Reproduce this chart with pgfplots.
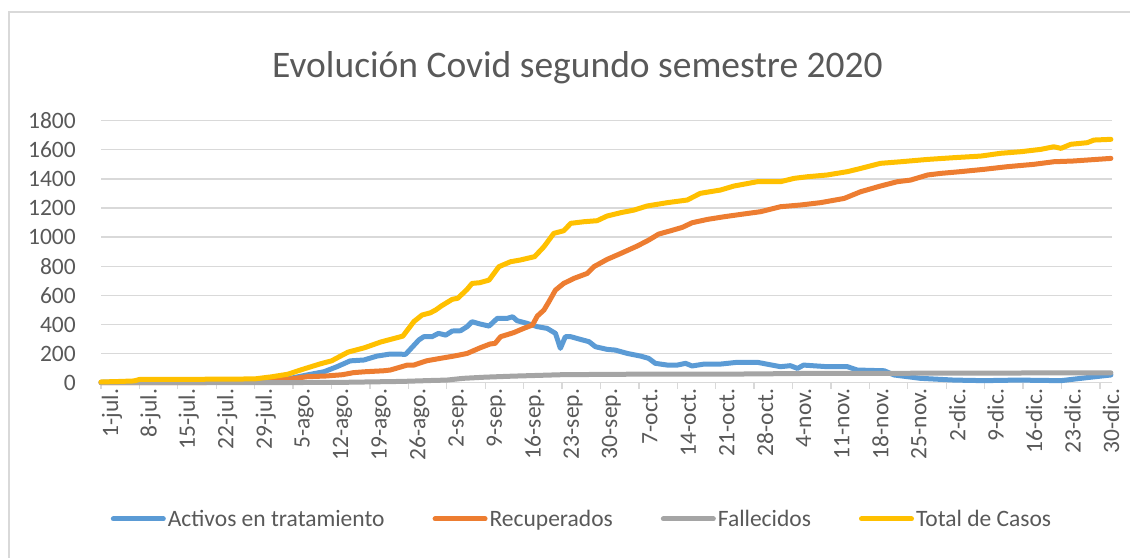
\documentclass[border=0pt]{standalone}
\usepackage{pgfplots}
\pgfplotsset{compat=1.18}
\usepackage{fontspec}
\setmainfont{Carlito}
\definecolor{cblue}{HTML}{5B9BD5}
\definecolor{corange}{HTML}{ED7D31}
\definecolor{cgray}{HTML}{A5A5A5}
\definecolor{cyellow}{HTML}{FFC000}
\definecolor{txt}{HTML}{595959}
\definecolor{gridc}{HTML}{D9D9D9}
\begin{document}
\begin{tikzpicture}[x=1pt,y=1pt]
\useasboundingbox (0,0) rectangle (1130,557);
\draw[gridc, line width=1.3pt] (9,-5) -- (9,545) -- (1140,545);
\node[anchor=base, text=txt, font=\fontsize{37.5}{45}\selectfont, inner sep=0pt] at (577.5,479) {Evolución Covid segundo semestre 2020};
\begin{axis}[
  at={(101pt,174.3pt)}, anchor=south west,
  scale only axis, width=1011pt, height=262pt,
  xmin=0, xmax=184.2, ymin=0, ymax=1800,
  axis x line*=bottom, axis y line*=left,
  y axis line style={draw=none},
  x axis line style={gridc, line width=1.3pt, -},
  xtick={0,7,...,182},
  xticklabels={1-jul.,8-jul.,15-jul.,22-jul.,29-jul.,5-ago.,12-ago.,19-ago.,26-ago.,2-sep.,9-sep.,16-sep.,23-sep.,30-sep.,7-oct.,14-oct.,21-oct.,28-oct.,4-nov.,11-nov.,18-nov.,25-nov.,2-dic.,9-dic.,16-dic.,23-dic.,30-dic.},
  ytick={0,200,...,1800},
  ymajorgrids, major grid style={gridc, line width=1.3pt},
  tick align=outside, major tick length=6pt,
  xtick style={gridc, line width=1.3pt},
  ytick style={draw=none},
  tick label style={text=txt, font=\fontsize{23.5}{28}\selectfont},
  xticklabel style={rotate=90, anchor=east, inner sep=0pt, yshift=-11pt},
  yticklabel style={anchor=east, inner sep=0pt, xshift=-19pt},
  /pgf/number format/assume math mode=true,
  /pgf/number format/1000 sep={},
  clip=false,
  every axis plot/.append style={line width=5pt, line join=round, line cap=round, mark=none},
  legend columns=4,
  legend style={at={(0.4758,-0.520)}, anchor=center, draw=none, fill=none, text=txt,
    font=\fontsize{23.5}{28}\selectfont,
    /tikz/every even column/.append style={column sep=46pt},
    nodes={inner xsep=2pt, inner ysep=0pt}},
  legend image code/.code={\draw[#1, line width=5pt, line cap=round] (2.5pt,0pt) -- (52.5pt,0pt);},
]
% Activos en tratamiento
\addplot[cblue] coordinates {
(0,3) (7,5) (28,8) (32,15) (34.5,30) (37.5,53) (40.6,75) (43,110) (45.4,150) (47.9,156)
(50.3,183) (52.7,197) (55.5,195) (57.9,293) (58.8,316) (60.3,316) (61.5,339) (62.8,327)
(64,355) (65.5,357) (66.7,385) (67.6,419) (69.1,403) (70.7,389) (72.2,442) (74,442) (75,453)
(75.8,426) (77.6,408) (79.5,385) (81.3,373) (82.8,339) (83.7,236) (84.6,316) (85.6,316)
(87.4,297) (88.9,282) (90.1,247) (92.2,229) (93.7,224) (95.9,201) (98.3,183) (99.8,167)
(101,133) (103.2,121) (105,121) (106.5,133) (107.7,115) (109.9,128) (112.9,128) (115.9,140)
(119.6,140) (121.4,127) (123.8,110) (125.6,117) (126.9,98) (128,121) (132.3,110) (136,110)
(137.8,87) (142.7,82) (144.5,53) (149.3,30) (155.4,18) (160.9,14) (167,18) (174.9,14)
(179.7,35) (184,53)
};
\addlegendentry{Activos en tratamiento}
% Recuperados
\addplot[corange] coordinates {
(0,0) (28,2) (31,15) (34.5,25) (37.5,41) (41,46) (44,55) (46,69) (48,75) (51.5,82) (52.7,87)
(55.8,121) (57,121) (58.8,144) (59.4,151) (61.8,167) (64.3,183) (66.7,201) (69.1,240)
(70.9,266) (71.8,270) (72.8,316) (75.2,344) (77,373) (78.6,396) (79.5,458) (80.7,499)
(81.6,556) (82.8,636) (84.3,682) (86.2,717) (88.6,751) (89.8,797) (92.2,847) (94.7,888)
(97.7,939) (99.8,980) (101.6,1021) (103.8,1044) (105.9,1067) (107.7,1099) (110.5,1122)
(113.5,1140) (116.5,1156) (120.2,1175) (123.8,1209) (127.5,1221) (131.1,1237) (135.4,1266)
(138.4,1312) (142,1351) (145.1,1381) (147.5,1392) (150.6,1427) (153,1438) (156.6,1450)
(160.9,1466) (165.1,1484) (169.9,1500) (173.6,1518) (177.1,1523) (184,1541)
};
\addlegendentry{Recuperados}
% Fallecidos
\addplot[cgray] coordinates {
(0,0) (35,1) (45,3) (50,6) (55,9) (60,15) (63,18) (66,30) (70,38) (75,45) (84,55)
(95,58) (120,60) (125,63) (160,66) (184,68)
};
\addlegendentry{Fallecidos}
% Total de Casos
\addplot[cyellow] coordinates {
(0,5) (3,8) (6,12) (7,22) (10,22) (14,23) (21,24) (28,26) (31,40) (34,58) (37,95) (40,130)
(42,150) (45,210) (48,240) (51,280) (53,300) (55,320) (57,420) (58.5,465) (60,480) (61,500)
(62,527) (64,573) (65,580) (66.7,641) (67.6,682) (69,687) (70.7,705) (72.5,797) (74.6,831)
(76.4,843) (79,866) (80.7,934) (82.5,1026) (84.3,1044) (85.6,1095) (88,1106) (90.4,1113)
(92.2,1145) (94.7,1168) (97.1,1186) (99.5,1214) (103.2,1237) (106.8,1255) (109.2,1301)
(112.9,1324) (115.3,1351) (119.6,1381) (123.8,1381) (126.3,1404) (128.7,1415) (132.3,1427)
(136,1450) (138.4,1472) (142,1507) (145.7,1518) (150.6,1534) (155.4,1546) (160.3,1557)
(163.9,1576) (167.6,1587) (171.2,1603) (173.6,1621) (174.9,1610) (176.7,1638) (179.7,1649)
(180.9,1667) (184,1672)
};
\addlegendentry{Total de Casos}
\end{axis}
\end{tikzpicture}
\end{document}
